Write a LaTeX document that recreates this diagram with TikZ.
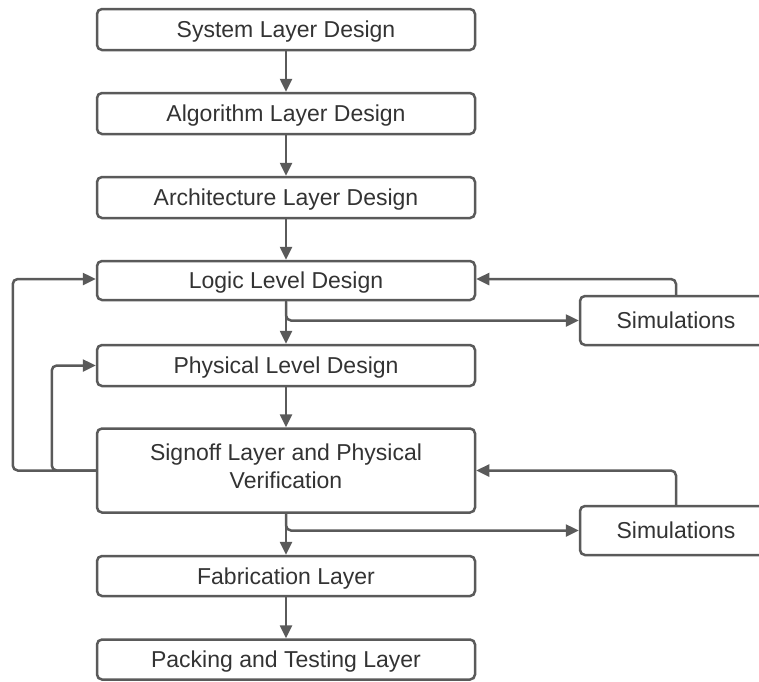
\documentclass[tikz,border=0pt]{standalone}
\usepackage{fontspec}
\setmainfont{Liberation Sans}
\usetikzlibrary{arrows.meta}
\definecolor{lncol}{HTML}{5A5A5A}
\definecolor{txtcol}{HTML}{333333}
\tikzset{
  box/.style={draw=lncol, line width=2.5pt, rounded corners=5pt, fill=white,
    minimum width=378pt, minimum height=41pt, text=txtcol, align=center,
    font=\fontsize{23}{27.7}\selectfont, inner sep=0pt,
    text height=16.5pt, text depth=0pt},
  simbox/.style={box, minimum width=192pt, minimum height=49pt},
  arr/.style={draw=lncol, line width=2.5pt, rounded corners=5pt,
    -{Triangle[length=13pt,width=12pt]}},
}
\begin{document}
\begin{tikzpicture}[x=1pt,y=-1pt]
\clip (0,0) rectangle (759,681);
\useasboundingbox (0,0) rectangle (759,681);
\node[box] (b1) at (286,29.5) {System Layer Design};
\node[box] (b2) at (286,113.5) {Algorithm Layer Design};
\node[box] (b3) at (286,197.5) {Architecture Layer Design};
\node[box, minimum height=39pt] (b4) at (286,280.5) {Logic Level Design};
\node[box, minimum height=41pt] (b5) at (286,365.5) {Physical Level Design};
\node[box, minimum height=84pt, text height=35pt] (b6) at (286,470.5) {Signoff Layer and Physical\\Verification};
\node[box, minimum height=40pt] (b7) at (286,576) {Fabrication Layer};
\node[box, minimum height=40pt] (b8) at (286,659.5) {Packing and Testing Layer};
\node[simbox] (s1) at (676,320.5) {Simulations};
\node[simbox] (s2) at (676,530.5) {Simulations};
\draw[arr] (b1) -- (b2);
\draw[arr] (b2) -- (b3);
\draw[arr] (b3) -- (b4);
\draw[arr] (b4) -- (b5);
\draw[arr] (b5) -- (b6);
\draw[arr] (b6) -- (b7);
\draw[arr] (b7) -- (b8);
\draw[arr] (b4.south) |- (s1.west);
\draw[arr] (b6.south) |- (s2.west);
\draw[arr] (s1.north) |- ([yshift=1.5pt]b4.east);
\draw[arr] (s2.north) |- (b6.east);
\draw[arr] (b6.west) -- ++(-83,0) |- ([yshift=1.5pt]b4.west);
\draw[arr] (b6.west) -- ++(-44,0) |- (b5.west);
\end{tikzpicture}
\end{document}
